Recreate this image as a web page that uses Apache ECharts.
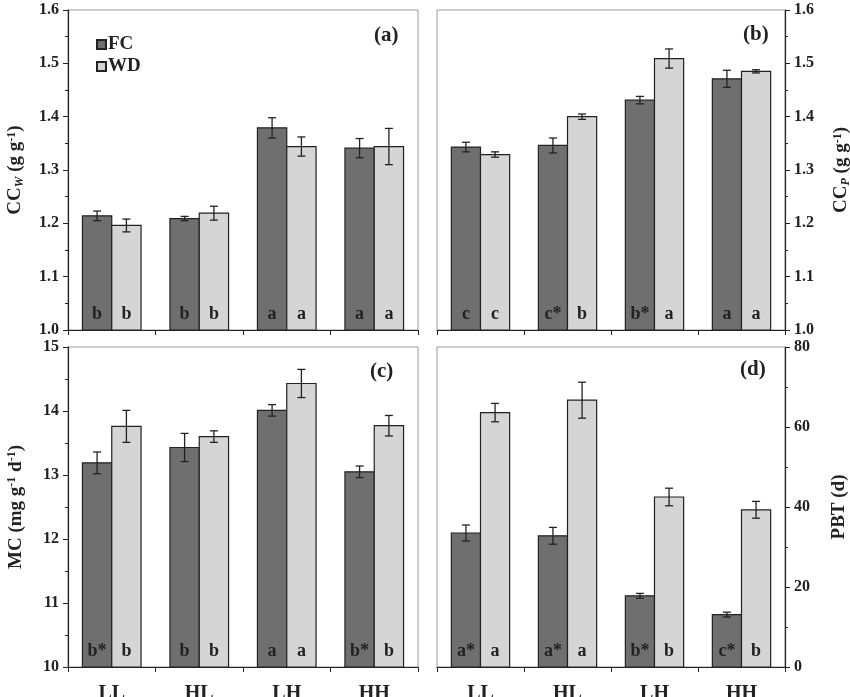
<!DOCTYPE html>
<html style="height: 100%">

<head>
    <meta charset="UTF-8" />
    <script type="text/javascript" src="https://cdn.jsdelivr.net/npm/echarts@6/dist/echarts.min.js"></script>
</head>

<body style="height: 100%; margin: 0; background: #fff">
    <div id="container" style="width: 850px; height: 697px"></div>
    <script>
        var categories = ['LL', 'HL', 'LH', 'HH'];

        // (a) CCw
        var ccwFC = [1.214, 1.209, 1.379, 1.341];
        var ccwFCerr = [0.009, 0.004, 0.019, 0.018];
        var ccwWD = [1.196, 1.219, 1.344, 1.344];
        var ccwWDerr = [0.012, 0.013, 0.018, 0.034];
        var ccwFCtag = ['b', 'b', 'a', 'a'];
        var ccwWDtag = ['b', 'b', 'a', 'a'];

        // (b) CCp
        var ccpFC = [1.343, 1.346, 1.431, 1.471];
        var ccpFCerr = [0.009, 0.014, 0.007, 0.016];
        var ccpWD = [1.329, 1.400, 1.509, 1.485];
        var ccpWDerr = [0.005, 0.005, 0.018, 0.003];
        var ccpFCtag = ['c', 'c*', 'b*', 'a'];
        var ccpWDtag = ['c', 'b', 'a', 'a'];

        // (c) MC
        var mcFC = [13.19, 13.43, 14.01, 13.05];
        var mcFCerr = [0.17, 0.22, 0.09, 0.09];
        var mcWD = [13.76, 13.60, 14.43, 13.77];
        var mcWDerr = [0.25, 0.09, 0.22, 0.16];
        var mcFCtag = ['b*', 'b', 'a', 'b*'];
        var mcWDtag = ['b', 'b', 'a', 'b'];

        // (d) PBT
        var pbtFC = [33.5, 32.8, 17.8, 13.1];
        var pbtFCerr = [2.0, 2.1, 0.6, 0.6];
        var pbtWD = [63.6, 66.7, 42.5, 39.3];
        var pbtWDerr = [2.3, 4.5, 2.2, 2.1];
        var pbtFCtag = ['a*', 'a*', 'b*', 'c*'];
        var pbtWDtag = ['a', 'a', 'b', 'b'];

        var serif = '"Liberation Serif", "Times New Roman", serif';
        var colFC = '#6f6f6f';
        var colWD = '#d5d5d5';
        var ink = '#222';

        var dom = document.getElementById("container");
        var chart = echarts.init(dom);

        function makeRender(side, yMin, errs, tags) {
            return function (params, api) {
                var i = api.value(0);
                var v = api.value(1);
                var e = errs[params.dataIndex];
                var base = api.coord([i, yMin]);
                var top = api.coord([i, v]);
                var band = api.size([1, 0])[0];
                var bw = band * 0.335;
                var x0 = side === 0 ? base[0] - bw : base[0];
                var cx = x0 + bw / 2;
                var hi = api.coord([i, v + e])[1];
                var lo = api.coord([i, v - e])[1];
                var cap = 4;
                return {
                    type: 'group',
                    children: [
                        {
                            type: 'rect',
                            shape: { x: x0, y: top[1], width: bw, height: base[1] - top[1] },
                            style: { fill: side === 0 ? colFC : colWD, stroke: ink, lineWidth: 1.2 }
                        },
                        {
                            type: 'polyline',
                            shape: { points: [[cx, hi], [cx, lo]] },
                            style: { stroke: ink, lineWidth: 1.3, fill: null }
                        },
                        {
                            type: 'line',
                            shape: { x1: cx - cap, y1: hi, x2: cx + cap, y2: hi },
                            style: { stroke: ink, lineWidth: 1.3 }
                        },
                        {
                            type: 'line',
                            shape: { x1: cx - cap, y1: lo, x2: cx + cap, y2: lo },
                            style: { stroke: ink, lineWidth: 1.3 }
                        },
                        {
                            type: 'text',
                            style: {
                                text: tags[params.dataIndex],
                                x: cx, y: base[1] - 7,
                                align: 'center', verticalAlign: 'bottom',
                                font: 'bold 18px ' + serif, fill: ink
                            }
                        }
                    ]
                };
            };
        }

        function series(name, g, side, yMin, vals, errs, tags) {
            return {
                name: name,
                type: 'custom',
                xAxisIndex: g,
                yAxisIndex: g,
                clip: false,
                itemStyle: { color: side === 0 ? colFC : colWD, borderColor: ink, borderWidth: 1 },
                renderItem: makeRender(side, yMin, errs, tags),
                encode: { x: 0, y: 1 },
                data: vals.map(function (v, i) { return [i, v]; })
            };
        }

        function xAxis(g, showLabel) {
            return {
                type: 'category',
                gridIndex: g,
                data: categories,
                axisLine: { lineStyle: { color: ink, width: 1.2 } },
                axisTick: { show: true, length: 5, alignWithLabel: false, lineStyle: { color: ink } },
                axisLabel: {
                    show: showLabel, margin: 17, color: ink,
                    fontFamily: serif, fontWeight: 'bold', fontSize: 20
                },
                splitLine: { show: false }
            };
        }

        function yAxis(g, pos, min, max, interval, digits, name, gap) {
            return {
                type: 'value',
                gridIndex: g,
                position: pos,
                min: min, max: max, interval: interval,
                name: name,
                nameLocation: 'middle',
                nameRotate: 90,
                nameGap: gap,
                nameTextStyle: {
                    color: ink, fontFamily: serif, fontWeight: 'bold', fontSize: 19,
                    rich: {
                        n: { fontFamily: serif, fontWeight: 'bold', fontSize: 19, color: ink },
                        sub: { fontFamily: serif, fontStyle: 'italic', fontSize: 12, color: ink, padding: [9, 0, 0, 0] },
                        sup: { fontFamily: serif, fontWeight: 'bold', fontSize: 12, color: ink, padding: [0, 0, 8, 0] }
                    }
                },
                axisLine: { show: true, lineStyle: { color: ink, width: 1.2 } },
                axisTick: { show: true, length: 5, lineStyle: { color: ink } },
                minorTick: { show: true, splitNumber: 2, length: 3, lineStyle: { color: ink } },
                splitLine: { show: false },
                axisLabel: {
                    color: ink, fontFamily: serif, fontWeight: 'bold', fontSize: 16, margin: 9,
                    formatter: function (v) { return v.toFixed(digits); }
                }
            };
        }

        function grid(left, right, top, bottom) {
            return {
                left: left, right: right, top: top, bottom: bottom,
                outerBoundsMode: 'none', containLabel: false,
                show: true, borderColor: '#9a9a9a', borderWidth: 1
            };
        }

        var option = {
            backgroundColor: '#fff',
            animation: false,
            grid: [
                grid(68, 432, 10, 367),
                grid(437, 65, 10, 367),
                grid(68, 432, 347, 30),
                grid(437, 65, 347, 30)
            ],
            legend: {
                left: 91, top: 30, orient: 'vertical',
                itemWidth: 9, itemHeight: 9, itemGap: 3,
                icon: 'rect',
                textStyle: { color: ink, fontFamily: serif, fontWeight: 'bold', fontSize: 19, padding: [0, 0, 0, -3] },
                data: ['FC', 'WD']
            },
            xAxis: [xAxis(0, false), xAxis(1, false), xAxis(2, true), xAxis(3, true)],
            yAxis: [
                yAxis(0, 'left', 1.0, 1.6, 0.1, 1, '{n|CC}{sub|W}{n| (g g}{sup|-1}{n|)}', 42),
                yAxis(1, 'right', 1.0, 1.6, 0.1, 1, '{n|CC}{sub|P}{n| (g g}{sup|-1}{n|)}', 46),
                yAxis(2, 'left', 10, 15, 1, 0, '{n|MC (mg g}{sup|-1}{n| d}{sup|-1}{n|)}', 42),
                yAxis(3, 'right', 0, 80, 20, 0, '{n|PBT (d)}', 45)
            ],
            graphic: [
                { type: 'text', left: 374, top: 25, style: { text: '(a)', font: 'bold 21px ' + serif, fill: ink } },
                { type: 'text', left: 743, top: 24, style: { text: '(b)', font: 'bold 21px ' + serif, fill: ink } },
                { type: 'text', left: 370, top: 361, style: { text: '(c)', font: 'bold 21px ' + serif, fill: ink } },
                { type: 'text', left: 740, top: 359, style: { text: '(d)', font: 'bold 21px ' + serif, fill: ink } }
            ],
            series: [
                series('FC', 0, 0, 1.0, ccwFC, ccwFCerr, ccwFCtag),
                series('WD', 0, 1, 1.0, ccwWD, ccwWDerr, ccwWDtag),
                series('FC', 1, 0, 1.0, ccpFC, ccpFCerr, ccpFCtag),
                series('WD', 1, 1, 1.0, ccpWD, ccpWDerr, ccpWDtag),
                series('FC', 2, 0, 10, mcFC, mcFCerr, mcFCtag),
                series('WD', 2, 1, 10, mcWD, mcWDerr, mcWDtag),
                series('FC', 3, 0, 0, pbtFC, pbtFCerr, pbtFCtag),
                series('WD', 3, 1, 0, pbtWD, pbtWDerr, pbtWDtag)
            ]
        };

        chart.setOption(option);
    </script>
</body>

</html>
